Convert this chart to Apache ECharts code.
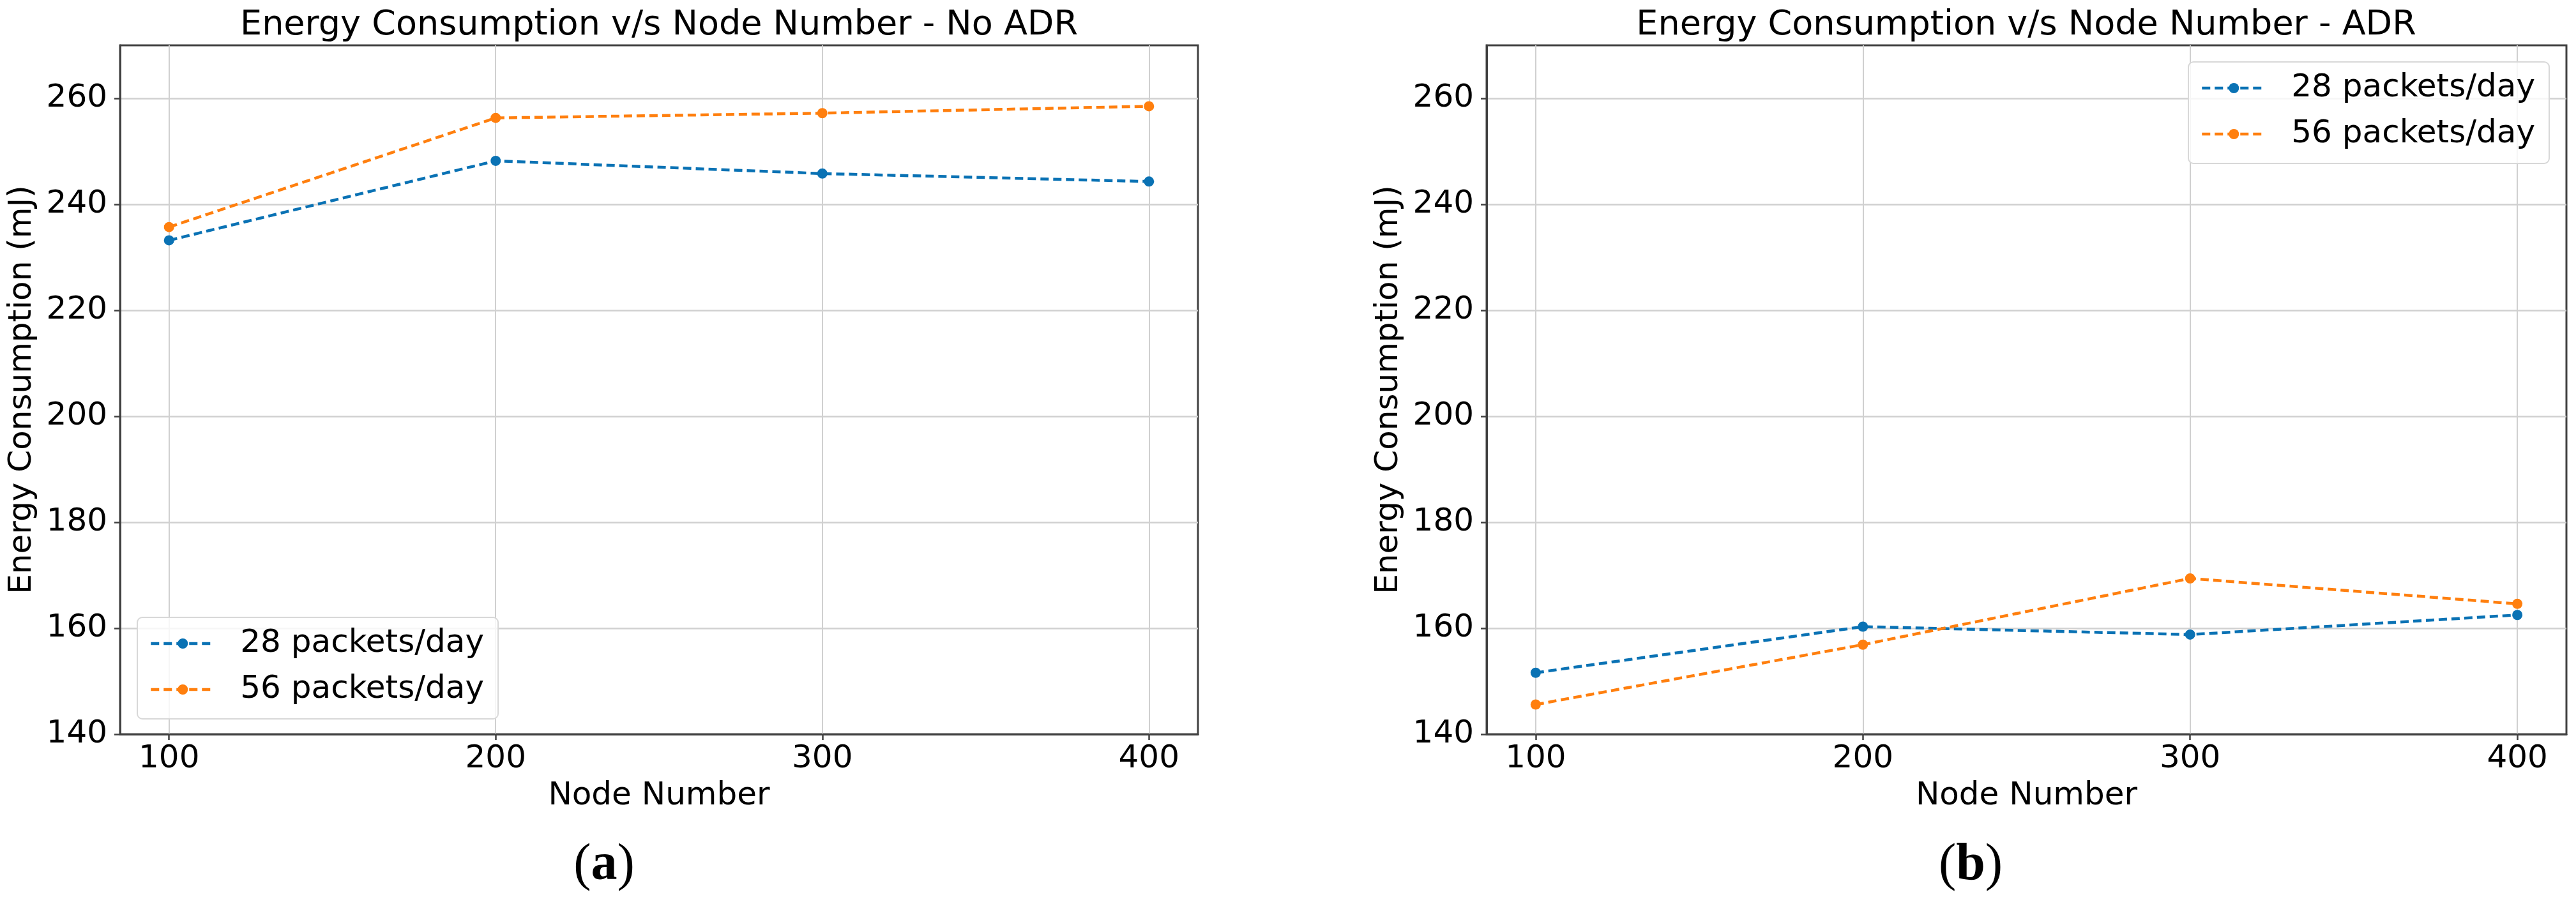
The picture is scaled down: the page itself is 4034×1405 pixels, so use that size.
<!DOCTYPE html>
<html>
<head>
<meta charset="utf-8">
<script src="https://cdn.jsdelivr.net/npm/echarts@6/dist/echarts.min.js"></script>
<style>
html,body{margin:0;padding:0;background:#fff;}
#c{width:4034px;height:1405px;}
</style>
</head>
<body>
<div id="c"></div>
<script>
const nodes = [100, 200, 300, 400];
const xTicks = [100, 200, 300, 400];
const yTicks = [140, 160, 180, 200, 220, 240, 260];
const seriesNames = ['28 packets/day', '56 packets/day'];
const noAdr28 = [233.2, 248.2, 245.8, 244.3];
const noAdr56 = [235.7, 256.3, 257.2, 258.5];
const adr28 = [151.6, 160.3, 158.8, 162.5];
const adr56 = [145.6, 156.9, 169.4, 164.6];
const titles = ['Energy Consumption v/s Node Number - No ADR', 'Energy Consumption v/s Node Number - ADR'];
const captions = ['a', 'b'];

const FONT = 'DejaVu Sans';
const BLUE = '#0a72b4';
const ORANGE = '#ff7f0e';
const SPINE = '#404040';
const GRIDC = '#d0d0d0';

const grids = [
  {left: 188, top: 71, width: 1688, height: 1079},
  {left: 2328, top: 71, width: 1691, height: 1079}
];

function xAxisDef(i) {
  return {
    type: 'value', gridIndex: i, min: 85, max: 415,
    name: 'Node Number', nameLocation: 'middle', nameGap: 72,
    nameTextStyle: {fontFamily: FONT, fontSize: 50, color: '#000'},
    axisLine: {show: true, onZero: false, lineStyle: {color: SPINE, width: 3}},
    axisTick: {show: true, length: 9, customValues: xTicks, lineStyle: {color: SPINE, width: 2.5}},
    axisLabel: {customValues: xTicks, margin: 14, fontFamily: FONT, fontSize: 50, color: '#000'},
    splitLine: {show: true, lineStyle: {color: GRIDC, width: 2}}
  };
}
function yAxisDef(i) {
  return {
    type: 'value', gridIndex: i, min: 140, max: 270,
    name: 'Energy Consumption (mJ)', nameLocation: 'middle', nameGap: 128, nameRotate: 90,
    nameTextStyle: {fontFamily: FONT, fontSize: 50, color: '#000'},
    axisLine: {show: true, lineStyle: {color: SPINE, width: 3}},
    axisTick: {show: true, length: 9, customValues: yTicks, lineStyle: {color: SPINE, width: 2.5}},
    axisLabel: {customValues: yTicks, margin: 20, fontFamily: FONT, fontSize: 50, color: '#000'},
    splitLine: {show: true, lineStyle: {color: GRIDC, width: 2.5}}
  };
}
function lineSeries(name, vals, color, i) {
  return {
    type: 'line', name: name, xAxisIndex: i, yAxisIndex: i,
    data: nodes.map((x, k) => [x, vals[k]]),
    symbol: 'circle', symbolSize: 16,
    itemStyle: {color: color},
    lineStyle: {color: color, width: 4.5, type: [13, 7]},
    animation: false, z: 3
  };
}
function legendDef(pos) {
  return Object.assign({
    orient: 'vertical', data: seriesNames,
    itemWidth: 100, itemHeight: 20, itemGap: 22,
    padding: [16, 22, 21, 19],
    borderColor: '#d8d8d8', borderWidth: 2, borderRadius: 8,
    backgroundColor: 'rgba(255,255,255,0.8)',
    lineStyle: {width: 4.5, type: [13, 7]},
    textStyle: {fontFamily: FONT, fontSize: 50, color: '#000', lineHeight: 50, padding: [0, 0, 0, 35]},
    selectedMode: false
  }, pos);
}

const option = {
  backgroundColor: '#fff',
  animation: false,
  grid: grids.map(g => Object.assign({show: true, borderColor: SPINE, borderWidth: 3, backgroundColor: 'transparent', containLabel: false}, g)),
  xAxis: [xAxisDef(0), xAxisDef(1)],
  yAxis: [yAxisDef(0), yAxisDef(1)],
  legend: [
    legendDef({left: 215, top: 967}),
    legendDef({left: 3427, top: 97})
  ],
  series: [
    lineSeries(seriesNames[0], noAdr28, BLUE, 0),
    lineSeries(seriesNames[1], noAdr56, ORANGE, 0),
    lineSeries(seriesNames[0], adr28, BLUE, 1),
    lineSeries(seriesNames[1], adr56, ORANGE, 1)
  ],
  graphic: [
    {type: 'text', x: 1032, y: 40, style: {text: titles[0], font: '54px "DejaVu Sans"', fill: '#000', textAlign: 'center', textVerticalAlign: 'middle'}},
    {type: 'text', x: 3173, y: 40, style: {text: titles[1], font: '54px "DejaVu Sans"', fill: '#000', textAlign: 'center', textVerticalAlign: 'middle'}},
    {type: 'text', x: 946, y: 1356, style: {text: '{p|(}{b|' + captions[0] + '}{p|)}', textAlign: 'center', textVerticalAlign: 'middle',
      rich: {p: {fontFamily: 'Liberation Serif', fontSize: 82, fill: '#000'}, b: {fontFamily: 'Liberation Serif', fontSize: 82, fontWeight: 'bold', fill: '#000'}}}},
    {type: 'text', x: 3086, y: 1356, style: {text: '{p|(}{b|' + captions[1] + '}{p|)}', textAlign: 'center', textVerticalAlign: 'middle',
      rich: {p: {fontFamily: 'Liberation Serif', fontSize: 82, fill: '#000'}, b: {fontFamily: 'Liberation Serif', fontSize: 82, fontWeight: 'bold', fill: '#000'}}}}
  ]
};

const chart = echarts.init(document.getElementById('c'), null, {renderer: 'canvas'});
chart.setOption(option);
</script>
</body>
</html>
